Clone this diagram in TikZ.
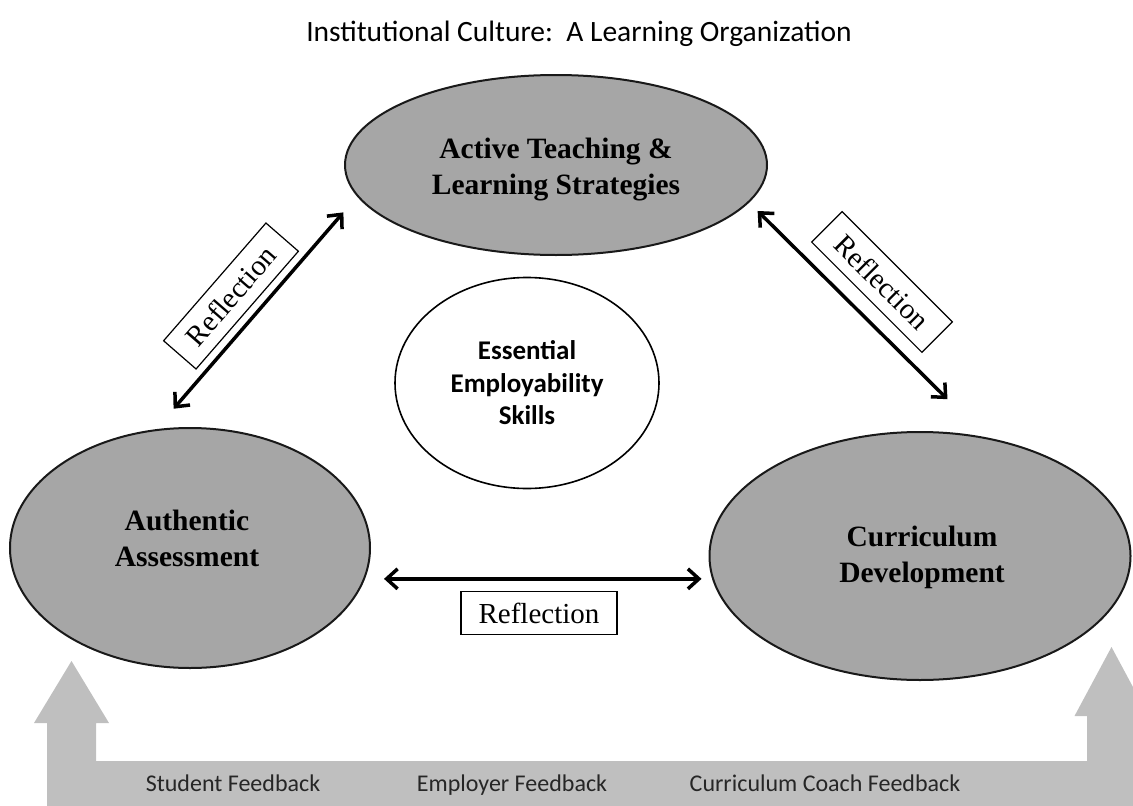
\documentclass[tikz,border=0pt]{standalone}
\usepackage{fontspec}
\setmainfont{Liberation Serif}
\newfontfamily\calibri{Carlito}
\usetikzlibrary{shapes.geometric,arrows.meta}

\begin{document}
\begin{tikzpicture}[x=1pt,y=-1pt,
		oval/.style={ellipse,draw=black!90,line width=2pt,fill=black!35,inner sep=0pt},
		otext/.style={align=center,font=\fontsize{29.5}{36}\selectfont\bfseries},
		refl/.style={draw,line width=1.2pt,fill=white,minimum width=156pt,minimum height=43pt,inner sep=0pt,font=\fontsize{29}{32}\selectfont},
		link/.style={{Straight Barb[length=11pt,width=20pt]}-{Straight Barb[length=11pt,width=20pt]},line width=3.5pt},
		fb/.style={font=\calibri\fontsize{24}{28}\selectfont,text=black!85,anchor=base}]
		\useasboundingbox (0,0) rectangle (1133,806);
		\clip (0,0) rectangle (1133,806);
		\node[font=\calibri\fontsize{29.5}{34}\selectfont,anchor=base] (title) at (579,41) {Institutional Culture:~~A Learning Organization};
		\fill[black!25] (47,810) -- (47,723) -- (34,723) -- (71.5,661) -- (109,723) -- (96,723) -- (96,761)
			-- (1087,761) -- (1087,716) -- (1074.5,716) -- (1111.5,647) -- (1148.5,716) -- (1136,716) -- (1136,810) -- cycle;
		\node[oval,minimum width=422pt,minimum height=180pt] (at) at (556,165) {};
		\node[oval,minimum width=360pt,minimum height=240pt] (aa) at (190,548) {};
		\node[oval,minimum width=421pt,minimum height=248pt] (cd) at (920,556) {};
		\node[otext] (att) at (556,170) {Active Teaching \&\\Learning Strategies};
		\node[otext] (aat) at (187,538) {Authentic\\Assessment};
		\node[otext] (cdt) at (922,557) {Curriculum\\Development};
		\node[ellipse,draw,line width=1.6pt,minimum width=264pt,minimum height=211pt,inner sep=0pt,align=center,
			font=\calibri\bfseries\fontsize{27}{32.5}\selectfont] (ees) at (527,383) {Essential\\Employability\\Skills};
		\draw[link,shorten <=27pt,shorten >=21pt] (aa.106) -- (at.189);
		\draw[link,shorten <=12pt,shorten >=54pt] (at.349) -- (cd.61);
		\draw[link,shorten <=19pt,shorten >=7pt] (aa.350) -- (aa.350 -| cd.west);
		\node[refl,rotate=49] (r1) at (231,296) {Reflection};
		\node[refl,rotate=-45] (r2) at (882,282) {Reflection};
		\node[refl] (r3) at (539,613) {Reflection};
		\node[fb] (sf) at (233,791) {Student Feedback};
		\node[fb] (ef) at (512,791) {Employer Feedback};
		\node[fb] (cf) at (825,791) {Curriculum Coach Feedback};
	\end{tikzpicture}
\end{document}
